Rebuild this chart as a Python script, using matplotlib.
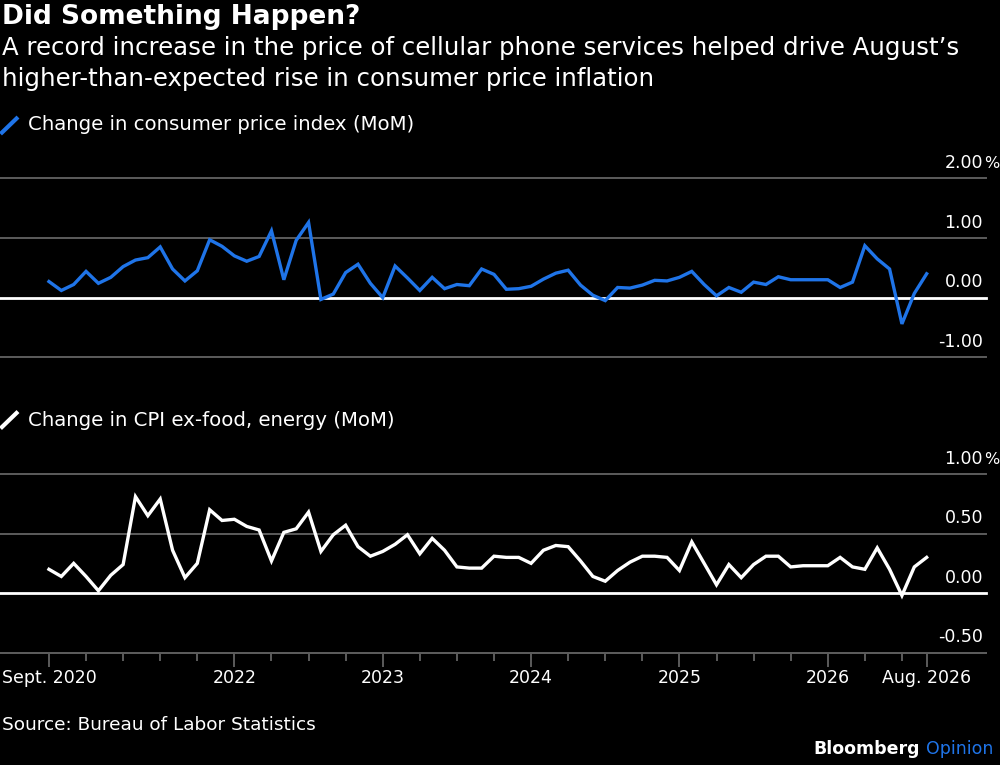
import matplotlib.pyplot as plt
from matplotlib.lines import Line2D
from matplotlib.transforms import blended_transform_factory

plt.rcParams['font.family'] = ['DejaVu Sans']

# monthly values, Sept. 2020 .. Aug. 2026 (72 months)
cpi = [0.27, 0.12, 0.22, 0.44, 0.24, 0.34, 0.52, 0.63, 0.67, 0.85,
       0.48, 0.28, 0.45, 0.97, 0.86, 0.70, 0.61, 0.69, 1.12, 0.30,
       0.96, 1.26, -0.03, 0.06, 0.42, 0.56, 0.24, 0.00, 0.53, 0.33,
       0.12, 0.34, 0.15, 0.22, 0.20, 0.48, 0.39, 0.14, 0.15, 0.19,
       0.31, 0.41, 0.46, 0.21, 0.04, -0.05, 0.17, 0.16, 0.21, 0.29,
       0.28, 0.34, 0.44, 0.22, 0.03, 0.17, 0.09, 0.26, 0.22, 0.35,
       0.30, 0.30, 0.30, 0.30, 0.17, 0.26, 0.87, 0.65, 0.48, -0.44,
       0.07, 0.40]
core = [0.20, 0.14, 0.25, 0.14, 0.02, 0.15, 0.24, 0.81, 0.65, 0.79,
        0.36, 0.13, 0.25, 0.70, 0.61, 0.62, 0.56, 0.53, 0.27, 0.51,
        0.54, 0.68, 0.35, 0.49, 0.57, 0.39, 0.31, 0.35, 0.41, 0.49,
        0.33, 0.46, 0.36, 0.22, 0.21, 0.21, 0.31, 0.30, 0.30, 0.25,
        0.36, 0.40, 0.39, 0.27, 0.14, 0.10, 0.19, 0.26, 0.31, 0.31,
        0.30, 0.19, 0.43, 0.25, 0.07, 0.24, 0.13, 0.24, 0.31, 0.31,
        0.22, 0.23, 0.23, 0.23, 0.30, 0.22, 0.20, 0.38, 0.20, -0.02,
        0.22, 0.30]
months = list(range(len(cpi)))

label_pos = [0, 15, 27, 39, 51, 63, 71]
label_txt = ['Sept. 2020', '2022', '2023', '2024', '2025', '2026', 'Aug. 2026']
minor_pos = [m for m in range(0, 72, 3) if m not in label_pos]

top_ticks = [2.0, 1.0, 0.0, -1.0]
top_labels = ['2.00', '1.00', '0.00', '-1.00']
bot_ticks = [1.0, 0.5, 0.0, -0.5]
bot_labels = ['1.00', '0.50', '0.00', '-0.50']

blue = '#1f74e8'
grid = '#5c5c5c'
W, H = 1000, 765


def fy(py):
    return 1 - py / H


fig = plt.figure(figsize=(10, 7.65), dpi=100, facecolor='black')
ax1 = fig.add_axes([0, fy(357.3), 0.986, (357.3 - 178.3) / H])
ax2 = fig.add_axes([0, fy(652.7), 0.986, (652.7 - 474) / H])


def style(ax, ticks, labels, lo, hi):
    ax.set_facecolor('black')
    ax.set_xlim(-3.96, 75.8)
    ax.set_ylim(lo, hi)
    for s in ax.spines.values():
        s.set_visible(False)
    ax.set_yticks([])
    tr = blended_transform_factory(fig.transFigure, ax.transData)
    for v, lab in zip(ticks, labels):
        if v == 0:
            ax.axhline(v, color='white', lw=2.0, zorder=1, clip_on=False)
        else:
            ax.axhline(v, color=grid, lw=1.4, zorder=1, clip_on=False)
        ax.annotate(lab, xy=(0.983, v), xycoords=tr, xytext=(0, 7.5),
                    textcoords='offset points', ha='right', va='baseline',
                    color='white', fontsize=12.5)
    ax.annotate('%', xy=(0.983, ticks[0]), xycoords=tr, xytext=(0.5, 7.5),
                textcoords='offset points', ha='left', va='baseline',
                color='white', fontsize=11.5)


style(ax1, top_ticks, top_labels, -1, 2)
style(ax2, bot_ticks, bot_labels, -0.5, 1.0)

ax1.plot(months, cpi, color=blue, lw=2.4, zorder=3, solid_joinstyle='miter')
ax2.plot(months, core, color='white', lw=2.4, zorder=3, solid_joinstyle='miter')

ax1.set_xticks([])
ax2.set_xticks(label_pos, label_txt)
ax2.set_xticks(minor_pos, minor=True)
ax2.tick_params(axis='x', which='major', length=10, width=1.4, color=grid,
                labelcolor='white', labelsize=12.5, pad=2)
ax2.tick_params(axis='x', which='minor', length=6, width=1.4, color=grid)
ax2.spines['bottom'].set_visible(True)
ax2.spines['bottom'].set_color(grid)
ax2.spines['bottom'].set_linewidth(1.4)

# header
fig.text(0.002, fy(17), 'Did Something Happen?', fontsize=19, fontweight='bold',
         color='white', va='center', ha='left')
fig.text(0.002, fy(48), 'A record increase in the price of cellular phone services helped drive August\u2019s',
         fontsize=17.6, color='white', va='center', ha='left')
fig.text(0.002, fy(79), 'higher-than-expected rise in consumer price inflation',
         fontsize=17.6, color='white', va='center', ha='left')

# legends
fig.add_artist(Line2D([2 / W, 16.5 / W], [fy(132.5), fy(118.5)], color=blue, lw=3,
                      transform=fig.transFigure))
fig.text(28 / W, fy(125), 'Change in consumer price index (MoM)', fontsize=14.2,
         color='white', va='center', ha='left')
fig.add_artist(Line2D([2 / W, 16.5 / W], [fy(427), fy(413)], color='white', lw=3,
                      transform=fig.transFigure))
fig.text(28 / W, fy(420), 'Change in CPI ex-food, energy (MoM)', fontsize=14.2,
         color='white', va='center', ha='left')

# footer
fig.text(0.002, fy(725), 'Source: Bureau of Labor Statistics', fontsize=13.3,
         color='white', va='center', ha='left')
fig.text(920 / W, fy(749), 'Bloomberg', fontsize=12.5, fontweight='bold',
         color='white', va='center', ha='right')
fig.text(926 / W, fy(749), 'Opinion', fontsize=12.5, color=blue,
         va='center', ha='left')

fig.savefig('out.png', dpi=100, facecolor='black')
